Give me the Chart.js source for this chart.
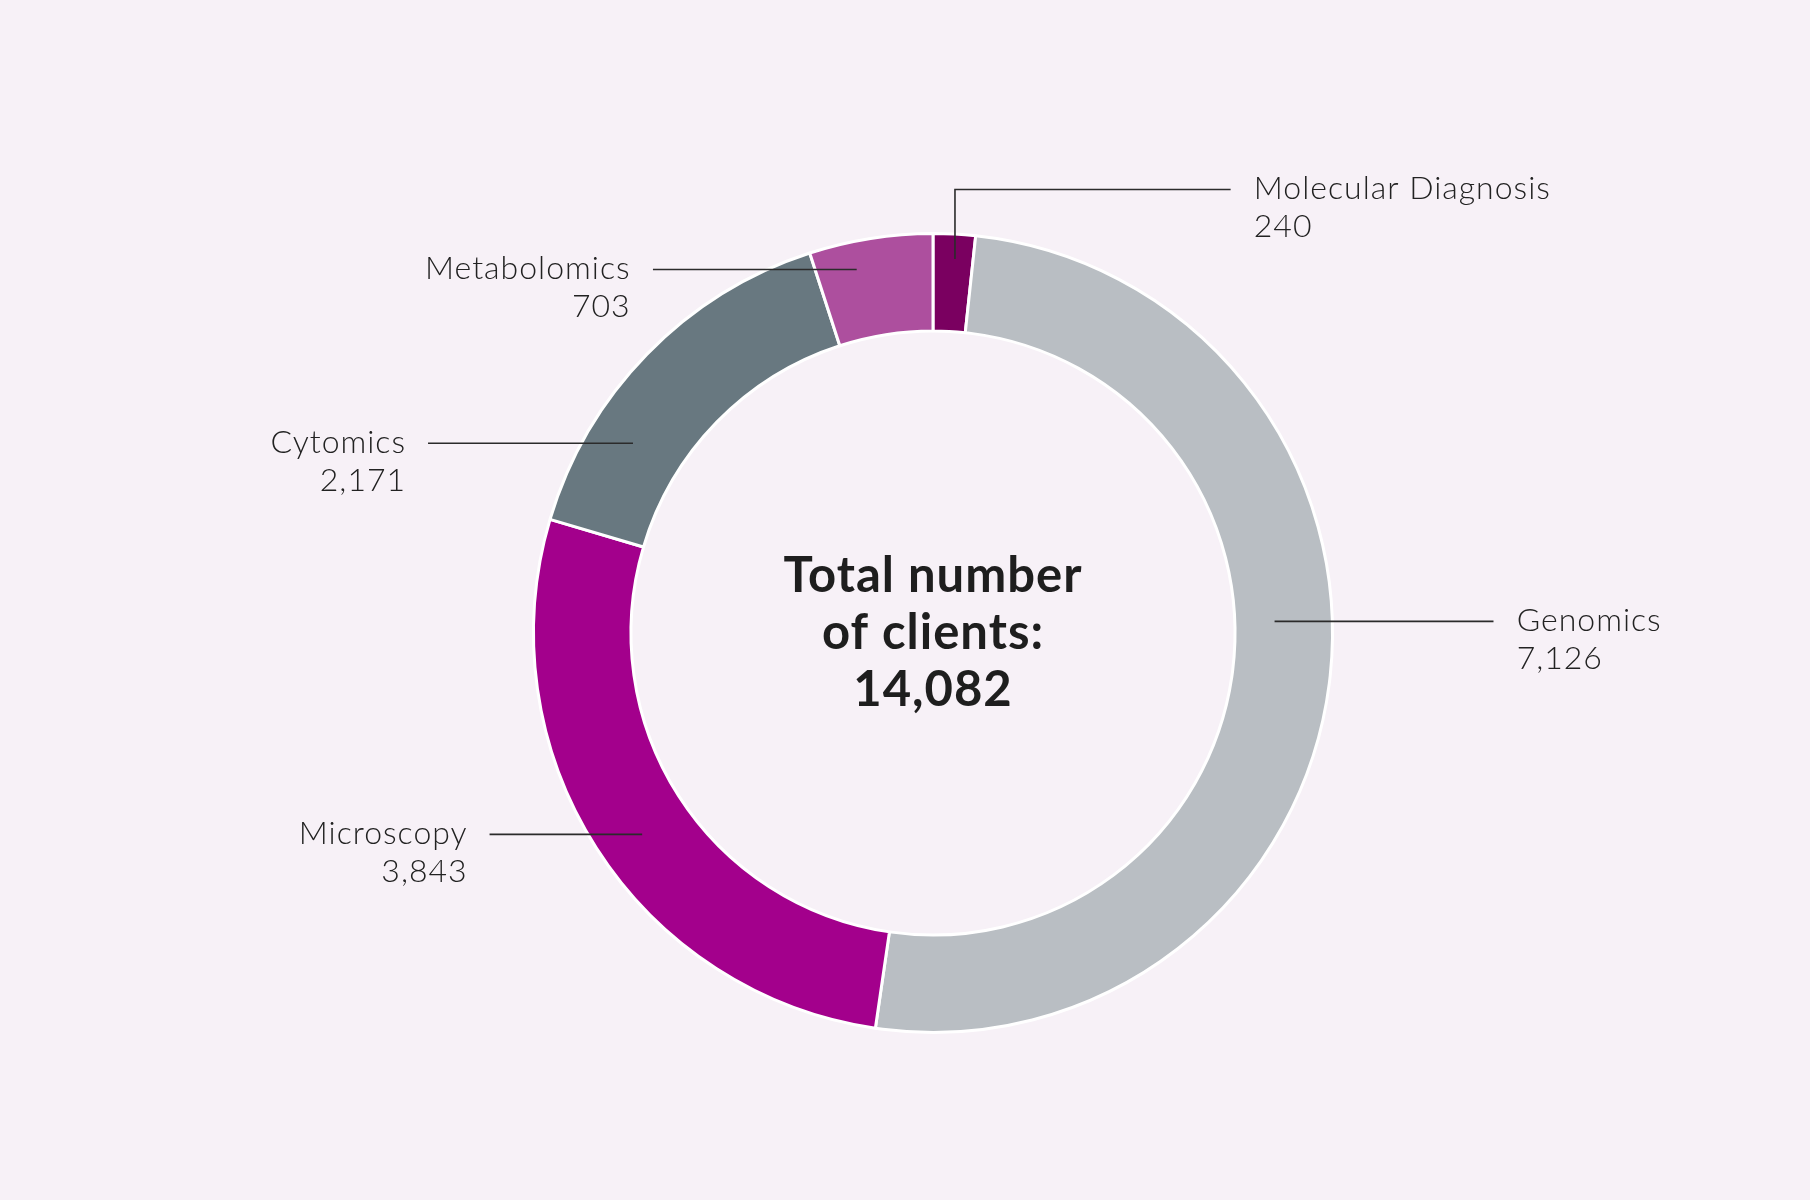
<!DOCTYPE html>
<html>
<head>
<meta charset="utf-8">
<script src="https://cdn.jsdelivr.net/npm/chart.js@4.4.1/dist/chart.umd.min.js"></script>
<style>
    html, body { margin: 0; padding: 0; background: #f7f1f7; }
    #wrap { width: 1810px; height: 1200px; }
</style>
</head>
<body>
<div id="wrap"><canvas id="clientsChart" width="1810" height="1200"></canvas></div>
<script>
// data
const categories = ['Molecular Diagnosis', 'Genomics', 'Microscopy', 'Cytomics', 'Metabolomics'];
const clients = [240, 7126, 3843, 2171, 703];
const totalText = ['Total number', 'of clients:', '14,082'];
const colors = ['#7a0060', '#b9bec3', '#a3008c', '#687880', '#ad4f9e'];

// leader lines + labels, in units of the outer radius, relative to the ring centre
const leaders = [
    { side: 'right', elbowX: 0.055, fromY: -0.936, y: -1.110, x0: 0.055, x1: 0.745, textX: 0.803 },
    { side: 'right', y: -0.029, x0: 0.855, x1: 1.403, textX: 1.461 },
    { side: 'left',  y: 0.504, x0: -0.728, x1: -1.110, textX: -1.165 },
    { side: 'left',  y: -0.475, x0: -0.751, x1: -1.264, textX: -1.319 },
    { side: 'left',  y: -0.910, x0: -0.191, x1: -0.701, textX: -0.757 }
];

const fmt = n => n.toLocaleString('en-US');

const labelPlugin = {
    id: 'labelPlugin',
    afterDatasetsDraw(chart) {
        const ctx = chart.ctx;
        const arcs = chart.getDatasetMeta(0).data;
        const cx = arcs[0].x, cy = arcs[0].y;
        const r = arcs[0].outerRadius;

        ctx.save();
        ctx.strokeStyle = '#2b2b2b';
        ctx.lineWidth = 1.6;
        ctx.fillStyle = '#222222';
        ctx.textBaseline = 'middle';

        leaders.forEach((l, i) => {
            ctx.beginPath();
            if (l.elbowX !== undefined) {
                ctx.moveTo(cx + l.elbowX * r, cy + l.fromY * r);
                ctx.lineTo(cx + l.elbowX * r, cy + l.y * r);
            } else {
                ctx.moveTo(cx + l.x0 * r, cy + l.y * r);
            }
            ctx.lineTo(cx + l.x1 * r, cy + l.y * r);
            ctx.stroke();

            ctx.font = '300 32px Lato';
            ctx.letterSpacing = '1px';
            ctx.textAlign = l.side === 'right' ? 'left' : 'right';
            ctx.fillText(categories[i], cx + l.textX * r, cy + l.y * r - 1);
            ctx.fillText(fmt(clients[i]), cx + l.textX * r, cy + l.y * r + 37);
        });

        // centre text
        ctx.font = 'bold 49px Lato';
        ctx.letterSpacing = '1px';
        ctx.textAlign = 'center';
        ctx.fillStyle = '#1e1e1e';
        ctx.fillText(totalText[0], cx, cy - 57);
        ctx.fillText(totalText[1], cx, cy);
        ctx.fillText(totalText[2], cx, cy + 57);
        ctx.restore();
    }
};

const ctx = document.getElementById('clientsChart').getContext('2d');
new Chart(ctx, {
    type: 'doughnut',
    data: {
        labels: categories,
        datasets: [{
            data: clients,
            backgroundColor: colors,
            borderColor: '#ffffff',
            borderWidth: 3,
            hoverOffset: 0
        }]
    },
    options: {
        responsive: false,
        animation: false,
        cutout: '75.6%',
        layout: {
            padding: { left: 56, right: 0, top: 232, bottom: 166 }
        },
        plugins: {
            legend: { display: false },
            tooltip: { enabled: false }
        }
    },
    plugins: [labelPlugin]
});
</script>
</body>
</html>
